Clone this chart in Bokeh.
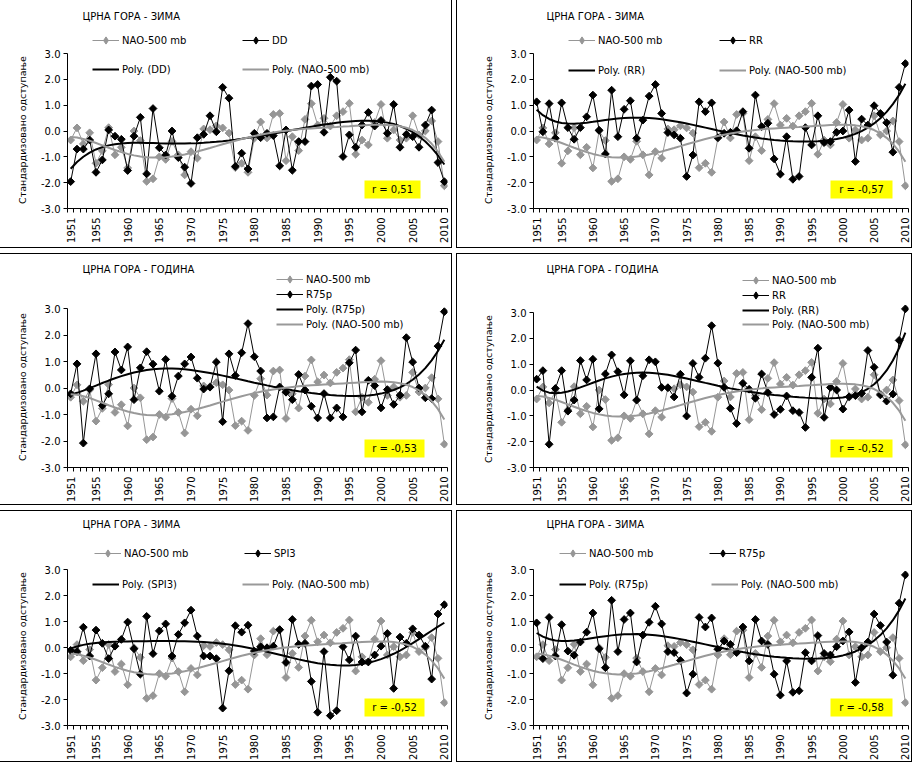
import numpy as np
from bokeh.plotting import figure
from bokeh.models import (Range1d, FixedTicker, NumeralTickFormatter, Legend, LegendItem,
                          Label, BoxAnnotation, Title)
from bokeh.layouts import column, row
from bokeh.embed import file_html
from bokeh.resources import INLINE

years = list(range(1951, 2011))
year_ticks = [1951] + list(range(1955, 2011, 5))
y_ticks = [-3, -2, -1, 0, 1, 2, 3]

nao = [-0.35, 0.12, -0.50, -0.07, -1.25, -0.77, 0.13, -0.92, -0.63, -1.43,
       0.00, -0.37, -1.95, -1.85, -1.00, -1.10, -0.40, -0.92, -1.70, -0.80,
       -1.05, 0.08, 0.05, 0.20, 0.12, -0.08, -1.42, -1.25, -1.60, -0.28,
       0.35, -0.27, 0.64, 0.68, -1.15, -0.22, -0.76, 0.45, 1.06, 0.23,
       0.49, 0.19, 0.59, 0.75, 1.07, -0.90, -0.35, -0.54, 0.33, 1.03,
       -0.28, 0.04, -0.35, -0.28, 0.59, -0.15, 0.00, 0.39, -0.41, -2.12]

dd_winter = [-1.96, -0.70, -0.70, -0.35, -1.60, -1.12, 0.04, -0.20, -0.32, -1.53,
             -0.20, 0.53, -1.66, 0.87, -0.65, -0.93, 0.00, -1.03, -1.40, -2.03,
             -0.26, -0.13, 0.59, -0.03, 1.69, 1.27, -1.37, -0.86, -1.47, -0.09,
             -0.26, -0.09, -0.18, -1.35, 0.04, -1.52, -0.41, -0.41, 1.74, 1.80,
             -0.05, 2.08, 1.93, -0.99, -0.15, -0.63, 0.23, 0.72, 0.19, 0.41,
             -0.09, 1.03, -0.63, -0.13, -0.22, -0.63, 0.23, 0.81, -1.22, -1.96]

rr_winter = [1.13, -0.03, 1.06, -0.28, 1.09, 0.13, -0.32, 0.13, 0.55, 1.39,
             0.03, -0.89, 1.58, -0.22, 0.84, 1.17, -0.28, 0.42, 1.35, 1.80,
             0.68, -0.06, -0.15, -0.28, -1.76, -0.93, 1.13, 0.75, 1.09, -0.26,
             -0.09, -0.05, 0.01, 0.75, -0.67, 1.39, 0.17, 0.30, -1.08, -1.67,
             -0.22, -1.87, -1.76, 0.13, -0.54, 0.59, -0.45, -0.41, -0.05, 0.00,
             0.81, -1.18, 0.46, 0.23, 0.98, 0.68, 0.32, -0.82, 1.69, 2.61]

r75p_year = [-0.22, 0.91, -2.08, -0.03, 1.29, -0.66, -0.22, 1.36, 0.68, 1.55,
             -0.44, 0.76, 1.37, 0.90, -0.12, 1.08, -0.31, 0.45, 0.91, 1.17,
             0.37, -0.04, 0.03, 0.98, -1.27, 1.29, 0.47, 1.33, 2.43, 1.18,
             0.64, -1.13, -1.09, 0.04, -0.16, -0.44, 0.51, -0.08, -0.69, -1.13,
             -0.21, -1.13, -0.75, -1.09, 0.95, 1.43, -0.90, 0.29, 0.09, -0.75,
             -0.06, -0.62, -0.27, 1.90, 0.98, 0.00, -0.37, -0.40, 1.58, 2.88]

rr_year = [0.42, 0.75, -2.10, 0.06, 0.75, -0.82, -0.39, 1.14, 0.39, 1.19,
           -0.73, 0.62, 1.36, 0.71, -0.19, 1.13, -0.39, 0.55, 1.17, 1.09,
           0.10, 0.09, -0.27, 0.61, -1.01, 1.03, 0.49, 1.23, 2.49, 1.04,
           0.10, -0.71, -1.30, 0.26, 0.03, -0.32, 0.62, -0.10, -0.95, -0.75,
           -0.23, -0.80, -0.87, -1.45, 0.49, 1.62, -1.06, 0.10, 0.00, -0.74,
           -0.26, -0.22, -0.13, 1.53, 0.88, -0.19, -0.43, -0.16, 1.92, 3.14]

spi3_winter = [-0.10, -0.15, 0.79, -0.32, 0.68, 0.17, -0.42, 0.06, 0.32, 0.99,
               -0.04, -1.02, 1.21, -0.23, 0.65, 0.92, -0.32, 0.51, 0.96, 1.45,
               0.45, -0.32, -0.32, -0.42, -2.33, -0.89, 0.85, 0.60, 0.87, -0.13,
               0.04, 0.00, 0.06, 0.70, -0.57, 1.09, 0.13, 0.17, -1.30, -2.49,
               -0.15, -2.62, -2.43, 0.04, -0.47, 0.45, -0.55, -0.55, -0.28, 0.06,
               0.55, -1.57, 0.41, 0.17, 0.73, 0.49, 0.06, -1.21, 1.30, 1.66]

r75p_winter = [0.96, -0.42, 1.17, -0.32, 0.89, -0.13, -0.29, 0.22, 0.60, 1.34,
               -0.04, -0.77, 1.83, -0.15, 1.09, 1.34, -0.55, 0.49, 0.98, 1.60,
               0.92, -0.15, -0.19, -0.49, -1.75, -1.02, 1.17, 0.80, 1.15, -0.06,
               0.26, 0.13, -0.19, 0.80, -0.51, 1.09, 0.26, 0.13, -1.02, -1.83,
               -0.51, -1.72, -1.66, -0.19, -0.51, 0.47, -0.22, -0.28, 0.04, 0.26,
               0.61, -1.34, 0.00, 0.22, 1.30, 0.86, 0.22, -1.06, 1.72, 2.81]

title_winter = "ЦРНА ГОРА - ЗИМА"
title_year = "ЦРНА ГОРА - ГОДИНА"
y_title = "Стандардизовано одступање"
nao_name = "NAO-500 mb"

FONT = "DejaVu Sans"
GRAY = "#969696"
GRAY_TREND = "#999999"
T0 = 2          # top of the (extended) frame inside each panel
YT_LEN = 146    # approx. rendered length of the y title, px
LEG_H = 18      # legend item height


def poly_trend(vals, deg=6):
    x = np.arange(1, len(vals) + 1, dtype=float)
    fit = np.polynomial.Polynomial.fit(x, np.asarray(vals, dtype=float), deg)
    return fit(x)


def make_panel(W, H, fl, ft, fr, fb, title, name, vals, rtext, legend_pos, title_xy, rbox):
    ppu = (fb - ft) / 6.0
    ytop = 3 + (ft - T0) / ppu
    p = figure(width=W, height=H, x_range=Range1d(1950.5, 2010.5),
               y_range=Range1d(-3, ytop),
               output_backend="svg", toolbar_location=None,
               min_border_left=fl, min_border_right=W - fr,
               min_border_top=T0, min_border_bottom=H - fb)
    p.outline_line_color = None
    p.grid.visible = False
    p.background_fill_color = None
    p.border_fill_color = None
    p.styles = {"box-shadow": "inset 0 0 0 1px #000000"}

    xa = p.xaxis[0]
    xa.ticker = FixedTicker(ticks=year_ticks, minor_ticks=[1950.5 + k for k in range(61)])
    xa.major_tick_out = 0
    xa.major_tick_in = 0
    xa.minor_tick_out = 4
    xa.minor_tick_in = 0
    xa.major_label_orientation = np.pi / 2
    xa.major_label_standoff = 5
    xa.major_label_text_font = FONT
    xa.major_label_text_font_size = "10px"
    xa.major_label_text_color = "black"
    xa.axis_line_color = "black"
    xa.minor_tick_line_color = "black"

    ya = p.yaxis[0]
    ya.ticker = FixedTicker(ticks=y_ticks)
    ya.formatter = NumeralTickFormatter(format="0.0")
    ya.bounds = (-3, 3)
    ya.major_tick_out = 4
    ya.major_tick_in = 0
    ya.minor_tick_out = 0
    ya.minor_tick_in = 0
    ya.major_label_standoff = 3
    ya.major_label_text_font = FONT
    ya.major_label_text_font_size = "10px"
    ya.major_label_text_color = "black"
    ya.axis_line_color = "black"
    ya.major_tick_line_color = "black"

    p.add_layout(Title(text=y_title, align="left", offset=(fb - ft) / 2.0 - YT_LEN / 2.0,
                       standoff=20, text_font=FONT, text_font_size="9.5px",
                       text_font_style="normal", text_color="black"), "left")

    nao_line = p.line(years, nao, line_color=GRAY, line_width=1)
    p.scatter(years, nao, marker="square", angle=np.pi / 4, size=5.5,
              fill_color=GRAY, line_color=GRAY)
    s_line = p.line(years, vals, line_color="black", line_width=1)
    p.scatter(years, vals, marker="square", angle=np.pi / 4, size=5.5,
              fill_color="black", line_color="black")
    s_trend = p.line(years, poly_trend(vals), line_color="black", line_width=2)
    n_trend = p.line(years, poly_trend(nao), line_color=GRAY_TREND, line_width=2)
    # hidden diamond renderers: only their legend symbols are shown
    nao_sym = p.scatter(years, nao, marker="diamond", fill_color=GRAY, line_color=GRAY,
                        visible=False)
    s_sym = p.scatter(years, vals, marker="diamond", fill_color="black", line_color="black",
                      visible=False)

    items = [(nao_name, [nao_line, nao_sym]), (name, [s_line, s_sym]),
             ("Poly. (" + name + ")", [s_trend]), ("Poly. (" + nao_name + ")", [n_trend])]
    for (label, rends), (lx, ly) in zip(items, legend_pos):
        leg = Legend(items=[LegendItem(label=label, renderers=rends)],
                     location=(lx - fl, fb - (ly + LEG_H / 2.0)),
                     padding=0, margin=0, spacing=0, border_line_color=None,
                     background_fill_alpha=0, glyph_width=27, glyph_height=LEG_H,
                     label_height=12, label_standoff=3, label_text_font=FONT,
                     label_text_font_size="10px", label_text_color="black",
                     click_policy="none")
        p.add_layout(leg, "center")

    # title
    p.add_layout(Label(x=title_xy[0] - fl, y=fb - title_xy[1], x_units="screen",
                       y_units="screen", text=title, text_font=FONT, text_font_size="10px",
                       text_baseline="middle", text_align="left", text_color="black"))
    # r box
    bx0, by0, bx1, by1 = rbox
    p.add_layout(BoxAnnotation(left=bx0 - fl, right=bx1 - fl, top=fb - by0, bottom=fb - by1,
                               left_units="screen", right_units="screen",
                               top_units="screen", bottom_units="screen",
                               fill_color="#FFFF00", fill_alpha=1, line_color=None))
    p.add_layout(Label(x=(bx0 + bx1) / 2 - fl, y=fb - (by0 + by1) / 2, x_units="screen",
                       y_units="screen", text=rtext, text_font=FONT, text_font_size="10px",
                       text_baseline="middle", text_align="center", text_color="black"))
    return p


LW, RW = 454, 456

p1 = make_panel(LW, 250, 69, 55, 449, 210, title_winter, "DD", dd_winter, "r = 0,51",
                [(94, 42), (244, 42), (94, 71), (244, 71)], (84, 18),
                (366, 182, 422, 200))
p2 = make_panel(RW, 250, 77, 55, 452, 210, title_winter, "RR", rr_winter, "r = -0,57",
                [(112, 42), (263, 42), (112, 72), (263, 72)], (90, 18),
                (374, 182, 436, 200))
p3 = make_panel(LW, 252, 69, 55, 449, 214, title_year, "R75p", r75p_year, "r = -0,53",
                [(278, 26), (278, 41), (278, 56), (278, 71)], (84, 16),
                (366, 186, 426, 204))
p4 = make_panel(RW, 252, 77, 59, 452, 214, title_year, "RR", rr_year, "r = -0,52",
                [(286, 27), (286, 42), (286, 57), (286, 71)], (90, 16),
                (374, 186, 436, 204))
p5 = make_panel(LW, 252, 69, 60, 449, 217, title_winter, "SPI3", spi3_winter, "r = -0,52",
                [(96, 45), (246, 45), (94, 76), (244, 76)], (84, 16),
                (366, 190, 426, 208))
p6 = make_panel(RW, 252, 77, 60, 452, 217, title_winter, "R75p", r75p_winter, "r = -0,58",
                [(103, 45), (253, 45), (103, 76), (255, 76)], (90, 16),
                (374, 190, 436, 208))

layout = column(row(p1, p2, spacing=4), row(p3, p4, spacing=4), row(p5, p6, spacing=4),
                spacing=5, margin=(-2, 0, -4, -2))

open("out.html", "w").write(file_html(layout, INLINE))
